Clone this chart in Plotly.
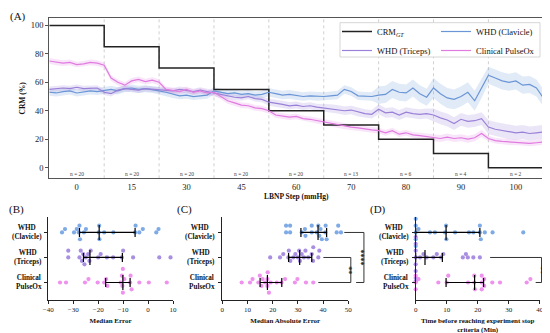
import numpy as np
import plotly.graph_objects as go

FONT = "Liberation Serif, Times New Roman, serif"

# ---------------- Panel A data ----------------
steps = ["0", "15", "30", "45", "60", "70", "80", "90", "100"]
n_subjects = [20, 20, 20, 20, 20, 13, 6, 4, 2]
crm_gt = [100, 85, 70, 55, 40, 30, 20, 10, 0]
samples_per_step = 8

whd_clavicle = [53, 52.5, 53.5, 54, 52.5, 53, 54, 53.5,
                54.5, 55, 54, 55.5, 56, 55, 55.5, 55,
                54, 53, 51.5, 50.5, 51, 50, 50.5, 51,
                54, 53, 52, 52.5, 51.5, 52, 51, 51.5,
                53, 52, 51, 51.5, 50.5, 50, 50.5, 50,
                50, 50.5, 51, 55, 53.5, 50.5, 50, 50,
                51, 51.5, 55, 53, 52.5, 56, 52, 49.5,
                56, 52, 49, 48, 50, 53, 47, 56,
                65, 63, 61, 60, 61, 58, 58.5, 56, 49]
whd_triceps = [55, 55.5, 56, 55.5, 56.5, 55.5, 56, 56,
               53, 52, 54.5, 55.5, 55, 54.5, 55.5, 55,
               55, 54.5, 54, 55, 54, 53.5, 54.5, 53.5,
               52, 51, 50, 49.5, 49, 50, 48.5, 48,
               46, 45.5, 44.5, 43.5, 44, 43, 43.5, 42.5,
               42, 41.5, 41, 40, 40.5, 39, 38, 37.5,
               41, 38.5, 39, 37, 39, 38, 37.5, 38,
               37, 35, 33.5, 31, 34, 32.5, 33, 34.5,
               28.5, 27, 26, 25, 24.5, 25, 24, 24.5, 25]
clinical_pulseox = [75, 74, 73.5, 74, 72.5, 73, 74, 73.5,
                    72, 63, 60, 58, 61, 62, 60.5, 61.5,
                    60, 55, 54.5, 53.5, 55, 53, 54, 52.5,
                    53, 50, 47, 45.5, 44, 43.5, 42, 41.5,
                    40, 37, 36.5, 35.5, 36, 34.5, 34, 33,
                    32, 31, 30, 29, 28.5, 28, 27, 26.5,
                    26, 24.5, 26, 23.5, 24.5, 23, 22.5, 22,
                    21, 20.5, 21.5, 20.5, 21, 20, 21, 24,
                    20.5, 19, 18.5, 18, 17.5, 17.5, 17, 17.5, 18]
# CI half widths per LBNP step
ci_clavicle = [2.5, 2.5, 2.5, 2.5, 3, 3, 6, 7, 6]
ci_triceps = [2, 2, 2, 2, 2.5, 3, 3.5, 4.5, 5]
ci_pulseox = [2, 2, 2, 2, 2, 2, 2, 2.5, 2]

# ---------------- Panels B-D data ----------------
group_labels = ["WHD<br>(Clavicle)", "WHD<br>(Triceps)", "Clinical<br>PulseOx"]

me_clavicle = [-34.5, -33.3, -29.7, -28.6, -27.8, -27.5, -27.3, -25.7, -24.9, -19.8,
               -19.6, -19.5, -17.6, -13.9, -5.2, -5.0, -3.5, -2.1, 3.3, 4.2]
me_triceps = [-32, -32, -27.5, -27, -26.5, -26, -25.5, -25, -24, -23.5,
              -23, -20, -19, -16.5, -14, -10.5, -10, -6, 4.5, 9]
me_pulseox = [-35.3, -32.9, -25.3, -23.9, -20.2, -17.6, -16.8, -16.3, -11, -10.5,
              -10.3, -10.1, -10.1, -9.5, -7.2, -7, -6.6, -3.5, 0.3, 7.5]
me_median = [-19.6, -23.3, -10.1]
me_q1 = [-27.5, -25.9, -17.0]
me_q3 = [-5.2, -10.3, -7.2]

mae_clavicle = [25.3, 25.3, 26.9, 26.9, 31.5, 32.8, 33, 35.5, 35.5, 37.5,
                38.1, 38.5, 39, 39.5, 40.9, 41, 41.4, 45.4, 46, 47.1]
mae_triceps = [19, 22.9, 24.2, 26.2, 26.4, 27, 28.2, 29, 30, 30.5,
               30.8, 31.5, 32.4, 33, 34.1, 35.5, 36, 36.1, 38.1, 38.5]
mae_pulseox = [7.7, 11, 12, 14.3, 14.9, 15.5, 16, 17, 17.9, 17.9,
               18, 18.5, 19.2, 21.6, 23.5, 24.9, 28.8, 29.8, 33.2, 36.1]
mae_median = [38.0, 30.7, 17.9]
mae_q1 = [31.2, 26.3, 15.0]
mae_q3 = [41.4, 35.5, 23.6]

time_clavicle = [0, 0, 0, 0, 0, 0.9, 4.6, 6.2, 9.5, 9.8,
                 9.9, 12.7, 17.2, 18.6, 20.7, 20.7, 21, 22.3, 24.8, 34.7]
time_triceps = [0, 0, 0, 0, 0, 0, 0, 0, 1.4, 2.5,
                3.5, 5.7, 6.8, 8.2, 8.9, 15.2, 16.2, 16.8, 18.6, 20.7]
time_pulseox = [0, 0, 0, 0.9, 7.3, 10, 10.5, 16.9, 18.9, 18.9,
                19.1, 21.3, 21.3, 21.3, 22.1, 22.1, 24.7, 27.2, 35.8, 37]
time_median = [9.8, 3.0, 19.0]
time_q1 = [0, 0, 9.8]
time_q3 = [20.7, 8.6, 21.9]

# ---------------- styling ----------------
C_GT = "#222222"
C_CLAV = "#6a95d6"
C_TRI = "#9a80d8"
C_POX = "#e07be0"
P_CLAV = "#7eaae6"
P_TRI = "#a98fe2"
P_POX = "#ee92ee"

W, H = 550, 333
OFF = 8  # default page margin of the html body


def px_x(p):
    return (p - OFF) / W


def px_y(p):
    return 1 - (p - OFF) / H


def rgba(hexc, a):
    h = hexc.lstrip("#")
    return "rgba(%d,%d,%d,%.3f)" % (int(h[0:2], 16), int(h[2:4], 16), int(h[4:6], 16), a)


fig = go.Figure()

# ---------------- Panel A ----------------
t = np.arange(len(whd_clavicle)) / samples_per_step
band_idx = np.minimum((np.arange(len(whd_clavicle)) // samples_per_step), len(steps) - 1)

series = [
    ("WHD (Clavicle)", whd_clavicle, ci_clavicle, C_CLAV, "legend2"),
    ("WHD (Triceps)", whd_triceps, ci_triceps, C_TRI, "legend"),
    ("Clinical PulseOx", clinical_pulseox, ci_pulseox, C_POX, "legend2"),
]
for name, vals, ci, col, lg in series:
    v = np.array(vals, dtype=float)
    hw = np.array(ci, dtype=float)[band_idx]
    up = v + hw
    lo = v - hw
    fig.add_trace(go.Scatter(
        x=np.concatenate([t, t[::-1]]), y=np.concatenate([up, lo[::-1]]),
        fill="toself", fillcolor=rgba(col, 0.2), line=dict(width=0),
        mode="lines", showlegend=False, hoverinfo="skip", xaxis="x", yaxis="y"))

gt_x = list(range(len(crm_gt) + 1))
gt_y = crm_gt + [crm_gt[-1]]
fig.add_trace(go.Scatter(x=gt_x, y=gt_y, mode="lines", line=dict(color=C_GT, width=1.5, shape="hv"),
                         name="CRM<sub><i>GT</i></sub>", legend="legend", xaxis="x", yaxis="y"))
for name, vals, ci, col, lg in series:
    fig.add_trace(go.Scatter(x=t, y=vals, mode="lines", line=dict(color=col, width=1.2),
                             name=name, legend=lg, xaxis="x", yaxis="y"))

shapes = []
for i in range(1, len(steps)):
    shapes.append(dict(type="line", xref="x", yref="y domain", x0=i, x1=i, y0=0, y1=1,
                       line=dict(color="#c4c4c4", width=0.8, dash="dot"), layer="below"))

annotations = []
for i, n in enumerate(n_subjects):
    annotations.append(dict(x=i + 0.5, y=-4.6, xref="x", yref="y", text="n = %d" % n,
                            showarrow=False, font=dict(size=5.5, color="#444", family=FONT)))

# legend frame
shapes.append(dict(type="rect", xref="paper", yref="paper",
                   x0=px_x(340), x1=px_x(540), y0=px_y(22.7), y1=px_y(57),
                   line=dict(color="#cccccc", width=0.8), fillcolor="white", layer="above"))

# ---------------- Panels B-D ----------------
YR = [-0.7, 2.63]
cat_y = [2, 1, 0]


def swarm(vals, ppu, d=4.0, row_px=25.0):
    vals = np.asarray(vals, dtype=float)
    out = np.zeros(len(vals))
    placed = []
    cands = [0.0]
    for m in range(1, 8):
        cands += [m * d * 0.85, -m * d * 0.85]
    for i in np.argsort(vals, kind="stable"):
        xp = vals[i] * ppu
        for c in cands:
            if all((xp - a) ** 2 + (c - b) ** 2 >= (d * 0.95) ** 2 for a, b in placed):
                break
        placed.append((xp, c))
        out[i] = c / row_px
    return out


panels = [
    ("x2", "y2", [-40, 10], [me_clavicle, me_triceps, me_pulseox], me_median, me_q1, me_q3, 2.49),
    ("x3", "y3", [0, 50], [mae_clavicle, mae_triceps, mae_pulseox], mae_median, mae_q1, mae_q3, 2.52),
    ("x4", "y4", [0, 40], [time_clavicle, time_triceps, time_pulseox], time_median, time_q1, time_q3, 3.1),
]
pcols = [P_CLAV, P_TRI, P_POX]
for xa, ya, xr, groups, med, q1, q3, ppu in panels:
    for g, vals in enumerate(groups):
        off = swarm(vals, ppu)
        fig.add_trace(go.Scatter(x=vals, y=cat_y[g] + off, mode="markers",
                                 marker=dict(color=pcols[g], size=4.2, line=dict(width=0)),
                                 cliponaxis=False, showlegend=False, xaxis=xa, yaxis=ya))
    for g in range(3):
        c = cat_y[g]
        fig.add_trace(go.Scatter(
            x=[q1[g], q3[g], None, q1[g], q1[g], None, q3[g], q3[g], None, med[g], med[g]],
            y=[c, c, None, c - 0.18, c + 0.18, None, c - 0.18, c + 0.18, None, c - 0.3, c + 0.3],
            mode="lines", line=dict(color="black", width=1.2), cliponaxis=False,
            showlegend=False, xaxis=xa, yaxis=ya))


def fx(v, rng):
    return (v - rng[0]) / (rng[1] - rng[0])


def bracket(xa, rng, x_top, x_bot, x_v, y_top, y_bot):
    xt, xb, xv = fx(x_top, rng), fx(x_bot, rng), fx(x_v, rng)
    yt, yb = fx(y_top, YR), fx(y_bot, YR)
    return dict(type="path", xref=xa + " domain", yref="y" + xa[1:] + " domain",
                path="M %f %f L %f %f L %f %f L %f %f" % (xt, yt, xv, yt, xv, yb, xb, yb),
                line=dict(color="#333", width=1))


shapes.append(bracket("x3", [0, 50], 40.1, 38.1, 51.0, 1, 0))
shapes.append(bracket("x3", [0, 50], 48.4, 53.1, 56.2, 2, 0))
shapes.append(bracket("x4", [0, 40], 24.0, 38.7, 40.6, 1, 0))

for xa, rng, xv, text, ymid in [("x3", [0, 50], 52.4, "**", 0.5), ("x3", [0, 50], 57.6, "****", 1.0),
                                 ("x4", [0, 40], 42.1, "**", 0.5)]:
    annotations.append(dict(xref=xa + " domain", yref="y" + xa[1:] + " domain",
                            x=fx(xv, rng), y=fx(ymid, YR), text="<b>%s</b>" % text, textangle=90,
                            showarrow=False, font=dict(size=8, family=FONT, color="#222")))

# category labels
for xa_px in [44, 217, 411]:
    for g in range(3):
        annotations.append(dict(xref="paper", yref="y2", x=px_x(xa_px), y=cat_y[g],
                                xanchor="right", yanchor="middle", align="center",
                                text="<b>%s</b>" % group_labels[g], showarrow=False,
                                font=dict(size=7.2, family=FONT, color="#111")))

# panel letters
annotations.append(dict(xref="paper", yref="paper", x=0, y=1, text="(A)",
                        showarrow=False, xanchor="left", yanchor="top",
                        font=dict(size=11, family=FONT, color="#111")))
for txt, xp, yp in [("(B)", 16, 209.5), ("(C)", 184, 209.5), ("(D)", 378, 209.5)]:
    annotations.append(dict(xref="paper", yref="paper", x=px_x(xp), y=px_y(yp), text=txt,
                            showarrow=False, xanchor="center", yanchor="middle",
                            font=dict(size=11, family=FONT, color="#111")))

tickfont_main = dict(size=8.5, family=FONT, color="#222")
tickfont_small = dict(size=7, family=FONT, color="#222")


def small_x(dom, rng, title, anchor):
    return dict(domain=dom, range=rng, dtick=10, anchor=anchor, automargin=False, showline=True,
                linecolor="#222", linewidth=1, ticks="outside", ticklen=3, tickcolor="#222",
                showgrid=False, zeroline=False, tickfont=tickfont_small,
                title=dict(text="<b>%s</b>" % title, font=dict(size=7, family=FONT, color="#111"),
                           standoff=4))


def small_y(dom, anchor):
    return dict(domain=dom, range=YR, anchor=anchor, automargin=False, tickvals=[0, 1, 2],
                showticklabels=False, showline=True, linecolor="#222", linewidth=1,
                ticks="outside", ticklen=3, tickcolor="#222", showgrid=False, zeroline=False)


ydom_small = [px_y(300), px_y(216.7)]

fig.update_layout(
    width=W, height=H, margin=dict(l=0, r=0, t=0, b=0, autoexpand=False),
    paper_bgcolor="white", plot_bgcolor="white",
    font=dict(family=FONT, color="#222"),
    xaxis=dict(domain=[px_x(49.3), px_x(543.3)], range=[0, 9], anchor="y", automargin=False,
               tickvals=[i + 0.5 for i in range(len(steps))], ticktext=steps,
               showline=True, mirror=True, linecolor="#555", linewidth=1, ticks="",
               showgrid=False, zeroline=False, tickfont=tickfont_main,
               title=dict(text="<b>LBNP Step (mmHg)</b>", font=dict(size=7.5, family=FONT, color="#111"),
                          standoff=3)),
    yaxis=dict(domain=[px_y(178.3), px_y(18.3)], range=[-7.5, 105], anchor="x", automargin=False,
               tickvals=[0, 20, 40, 60, 80, 100],
               showline=True, mirror=True, linecolor="#555", linewidth=1, ticks="outside", ticklen=3,
               tickcolor="#555", showgrid=False, zeroline=False, tickfont=tickfont_main,
               title=dict(text="<b>CRM (%)</b>", font=dict(size=7.5, family=FONT, color="#111"),
                          standoff=4)),
    xaxis2=small_x([px_x(48.3), px_x(173)], [-40, 10], "Median Error", "y2"),
    yaxis2=small_y(ydom_small, "x2"),
    xaxis3=small_x([px_x(222.3), px_x(348.3)], [0, 50], "Median Absolute Error", "y3"),
    yaxis3=small_y(ydom_small, "x3"),
    xaxis4=small_x([px_x(415.7), px_x(539.7)], [0, 40],
                   "Time before reaching experiment stop<br>criteria (Min)", "y4"),
    yaxis4=small_y(ydom_small, "x4"),
    legend=dict(x=px_x(337), y=px_y(17), xanchor="left", yanchor="top", bgcolor="rgba(0,0,0,0)",
                font=dict(size=8.5, family=FONT, color="#111"), traceorder="normal"),
    legend2=dict(x=px_x(436), y=px_y(17), xanchor="left", yanchor="top", bgcolor="rgba(0,0,0,0)",
                 font=dict(size=8.5, family=FONT, color="#111"), traceorder="normal"),
    shapes=shapes, annotations=annotations,
)

fig.write_html("out.html")
